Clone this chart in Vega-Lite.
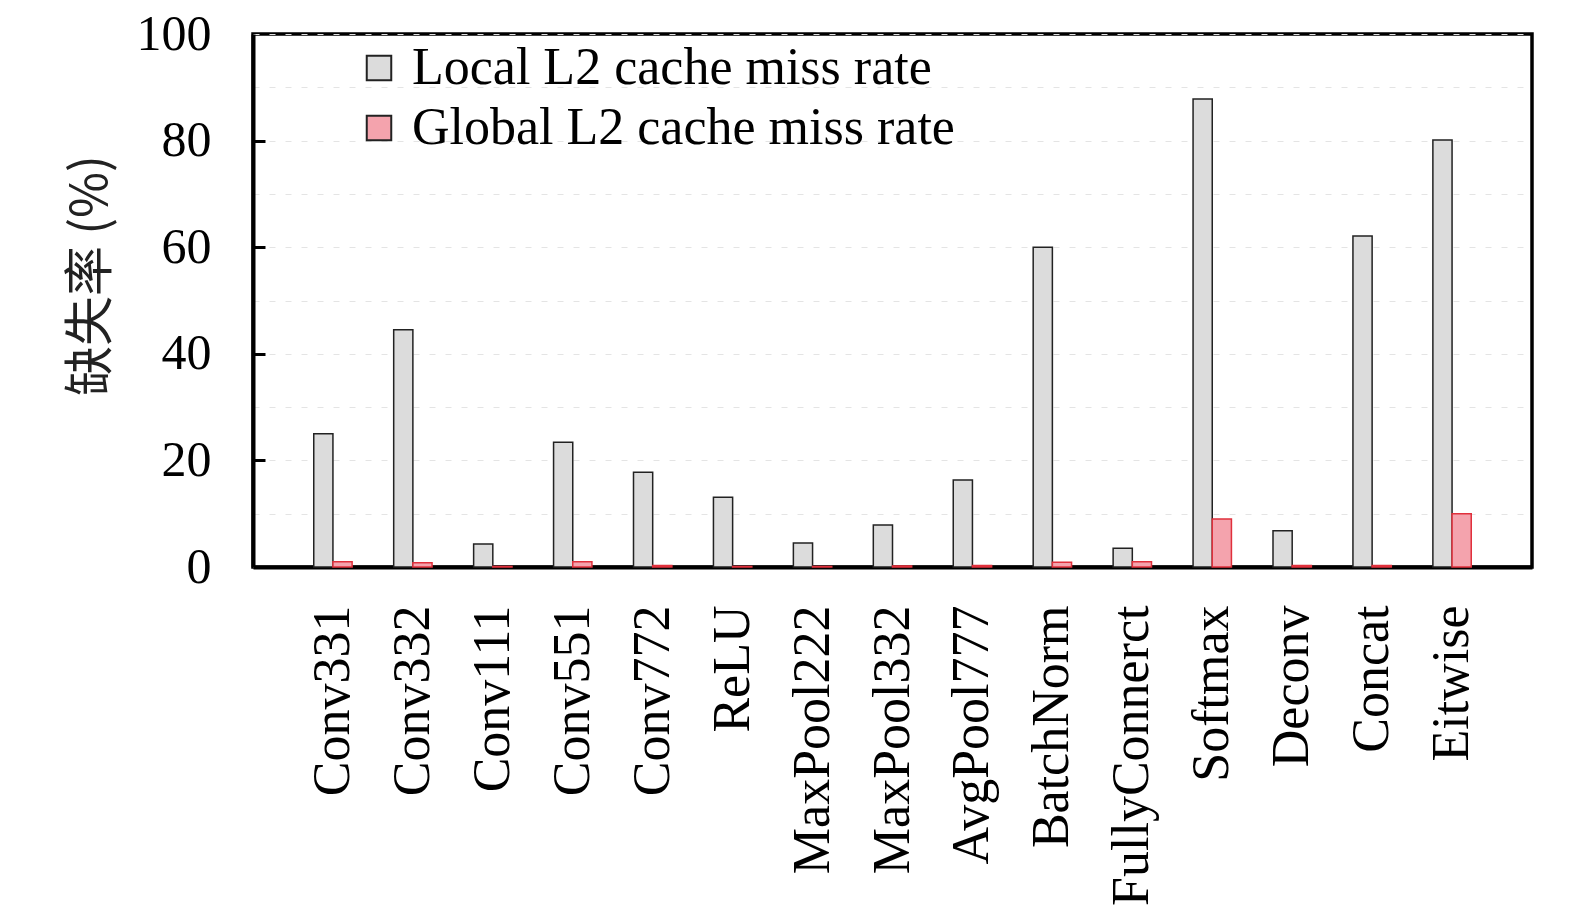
{
  "$schema": "https://vega.github.io/schema/vega-lite/v6.json",
  "width": 1279,
  "height": 533,
  "autosize": {"type": "none"},
  "padding": {"left": 253, "top": 34, "right": 43, "bottom": 349},
  "background": "white",
  "config": {
    "font": "Liberation Serif",
    "view": {"stroke": "black", "strokeWidth": 3.5}
  },
  "data": {
    "values": [
      {"op": "Conv331", "metric": "Local L2 cache miss rate", "value": 25.0},
      {"op": "Conv331", "metric": "Global L2 cache miss rate", "value": 1.0},
      {"op": "Conv332", "metric": "Local L2 cache miss rate", "value": 44.5},
      {"op": "Conv332", "metric": "Global L2 cache miss rate", "value": 0.8},
      {"op": "Conv111", "metric": "Local L2 cache miss rate", "value": 4.3},
      {"op": "Conv111", "metric": "Global L2 cache miss rate", "value": 0.1},
      {"op": "Conv551", "metric": "Local L2 cache miss rate", "value": 23.4},
      {"op": "Conv551", "metric": "Global L2 cache miss rate", "value": 1.0},
      {"op": "Conv772", "metric": "Local L2 cache miss rate", "value": 17.8},
      {"op": "Conv772", "metric": "Global L2 cache miss rate", "value": 0.3},
      {"op": "ReLU", "metric": "Local L2 cache miss rate", "value": 13.1},
      {"op": "ReLU", "metric": "Global L2 cache miss rate", "value": 0.1},
      {"op": "MaxPool222", "metric": "Local L2 cache miss rate", "value": 4.5},
      {"op": "MaxPool222", "metric": "Global L2 cache miss rate", "value": 0.1},
      {"op": "MaxPool332", "metric": "Local L2 cache miss rate", "value": 7.9},
      {"op": "MaxPool332", "metric": "Global L2 cache miss rate", "value": 0.2},
      {"op": "AvgPool777", "metric": "Local L2 cache miss rate", "value": 16.3},
      {"op": "AvgPool777", "metric": "Global L2 cache miss rate", "value": 0.3},
      {"op": "BatchNorm", "metric": "Local L2 cache miss rate", "value": 60.0},
      {"op": "BatchNorm", "metric": "Global L2 cache miss rate", "value": 0.9},
      {"op": "FullyConnerct", "metric": "Local L2 cache miss rate", "value": 3.5},
      {"op": "FullyConnerct", "metric": "Global L2 cache miss rate", "value": 1.0},
      {"op": "Softmax", "metric": "Local L2 cache miss rate", "value": 87.8},
      {"op": "Softmax", "metric": "Global L2 cache miss rate", "value": 9.0},
      {"op": "Deconv", "metric": "Local L2 cache miss rate", "value": 6.8},
      {"op": "Deconv", "metric": "Global L2 cache miss rate", "value": 0.3},
      {"op": "Concat", "metric": "Local L2 cache miss rate", "value": 62.1},
      {"op": "Concat", "metric": "Global L2 cache miss rate", "value": 0.3},
      {"op": "Eitwise", "metric": "Local L2 cache miss rate", "value": 80.1},
      {"op": "Eitwise", "metric": "Global L2 cache miss rate", "value": 10.0}
    ]
  },
  "mark": {"type": "bar", "strokeWidth": 1.5},
  "encoding": {
    "x": {
      "field": "op",
      "type": "nominal",
      "sort": null,
      "scale": {"paddingInner": 0.52, "paddingOuter": 0.76},
      "axis": {
        "title": null,
        "labelAngle": -90,
        "labelFontSize": 52,
        "labelColor": "black",
        "labelPadding": 38,
        "labelLimit": 0,
        "ticks": false,
        "domainColor": "black",
        "domainWidth": 4
      }
    },
    "xOffset": {
      "field": "metric",
      "type": "nominal",
      "sort": ["Local L2 cache miss rate", "Global L2 cache miss rate"]
    },
    "y": {
      "field": "value",
      "type": "quantitative",
      "scale": {"domain": [0, 100]},
      "axis": {
        "title": "缺失率 (%)",
        "titleFont": "Noto Sans CJK SC",
        "titleFontSize": 50,
        "titleFontWeight": "normal",
        "titleColor": "#222",
        "titleX": -137,
        "titleY": 241,
        "values": [0, 10, 20, 30, 40, 50, 60, 70, 80, 90, 100],
        "labelExpr": "datum.value % 20 === 0 ? datum.label : ''",
        "labelFontSize": 50,
        "labelColor": "black",
        "labelPadding": 54,
        "tickSize": -12,
        "tickWidth": 3,
        "tickColor": "black",
        "tickOpacity": {"condition": {"test": "datum.value % 20 === 0 && datum.value > 0 && datum.value < 100", "value": 1}, "value": 0},
        "domainColor": "black",
        "domainWidth": 4,
        "grid": true,
        "gridColor": "#e4e4e4",
        "gridDash": [6, 10],
        "gridWidth": 1
      }
    },
    "fill": {
      "field": "metric",
      "type": "nominal",
      "sort": ["Local L2 cache miss rate", "Global L2 cache miss rate"],
      "scale": {"range": ["#dcdcdc", "#f4a3ad"]},
      "legend": {
        "title": null,
        "orient": "none",
        "legendX": 100,
        "legendY": 8,
        "symbolType": "square",
        "symbolSize": 600,
        "symbolStrokeWidth": 2,
        "labelFontSize": 52,
        "labelColor": "black",
        "labelLimit": 0,
        "labelOffset": 7,
        "rowPadding": 8,
        "encode": {
          "symbols": {
            "enter": {
              "stroke": {"signal": "datum.label === 'Global L2 cache miss rate' ? '#e0303c' : '#222222'"}
            },
            "update": {
              "stroke": {"signal": "datum.label === 'Global L2 cache miss rate' ? '#e0303c' : '#222222'"}
            }
          }
        }
      }
    },
    "stroke": {
      "condition": {"test": "datum.metric === 'Global L2 cache miss rate'", "value": "#e0303c"},
      "value": "#222222"
    }
  }
}
